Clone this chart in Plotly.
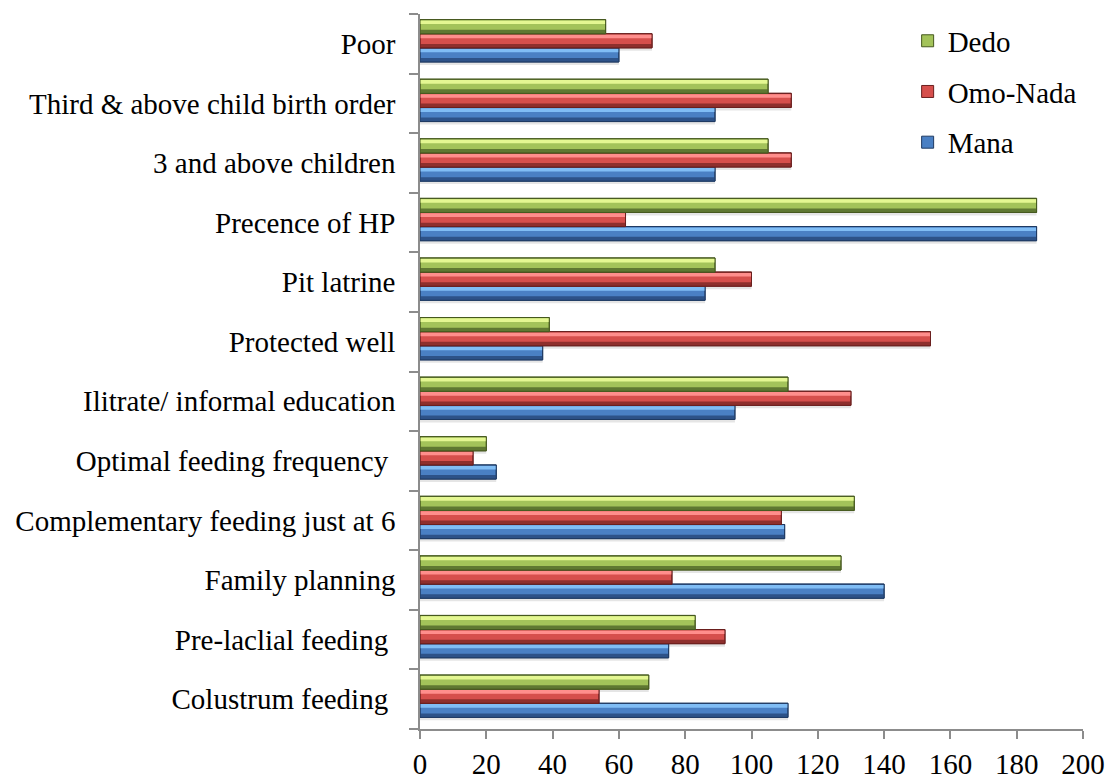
import plotly.graph_objects as go

# Categories, bottom to top
categories = [
    "Colustrum feeding\u00a0",
    "Pre-laclial feeding\u00a0",
    "Family planning",
    "Complementary feeding just at 6",
    "Optimal feeding frequency\u00a0",
    "Ilitrate/ informal education",
    "Protected well",
    "Pit latrine",
    "Precence of HP",
    "3 and above children",
    "Third & above child birth order",
    "Poor",
]

mana = [111, 75, 140, 110, 23, 95, 37, 86, 186, 89, 89, 60]
omo_nada = [54, 92, 76, 109, 16, 130, 154, 100, 62, 112, 112, 70]
dedo = [69, 83, 127, 131, 20, 111, 39, 89, 186, 105, 105, 56]

x_ticks = [0, 20, 40, 60, 80, 100, 120, 140, 160, 180, 200]

FONT = "Liberation Serif"
FSIZE = 29

# name, values, (mid, light, dark, edge), band offset, legend rank
series = [
    ("Mana", mana, ("#4a80c4", "#80bdf5", "#2d5288", "#1f3a62"), -0.305, 3),
    ("Omo-Nada", omo_nada, ("#d64f4c", "#ff8e8c", "#8e2f2d", "#6a1f1e"), -0.068, 2),
    ("Dedo", dedo, ("#a3c35a", "#e4f792", "#5f7832", "#46591f"), 0.169, 1),
]
W = 0.237

fig = go.Figure()

# soft shadows under each bar
for name, vals, cols, off, rank in series:
    fig.add_trace(go.Bar(
        y=categories, x=vals, orientation="h", offset=off - 0.05, width=W,
        marker=dict(color="rgba(0,0,0,0.10)", line=dict(width=0)),
        showlegend=False, hoverinfo="skip", legendgroup=name, legendrank=rank,
    ))

for name, vals, cols, off, rank in series:
    mid, light, dark, edge = cols
    # main body (carries the legend entry)
    fig.add_trace(go.Bar(
        y=categories, x=vals, orientation="h", offset=off, width=W, name=name,
        marker=dict(color=mid, line=dict(color=edge, width=1)),
        legendgroup=name, legendrank=rank,
    ))
    # lower darker bevel
    fig.add_trace(go.Bar(
        y=categories, x=vals, orientation="h", offset=off, width=W * 0.28,
        marker=dict(color=dark, line=dict(width=0)),
        showlegend=False, hoverinfo="skip", legendgroup=name, legendrank=rank,
    ))
    # upper light bevel
    fig.add_trace(go.Bar(
        y=categories, x=vals, orientation="h", offset=off + W * 0.68, width=W * 0.26,
        marker=dict(color=light, line=dict(width=0)),
        showlegend=False, hoverinfo="skip", legendgroup=name, legendrank=rank,
    ))
    # crisp outline on top
    fig.add_trace(go.Bar(
        y=categories, x=vals, orientation="h", offset=off, width=W,
        marker=dict(color="rgba(0,0,0,0)", line=dict(color=edge, width=1)),
        showlegend=False, hoverinfo="skip", legendgroup=name, legendrank=rank,
    ))

fig.update_layout(
    width=1110, height=780,
    barmode="overlay",
    plot_bgcolor="white", paper_bgcolor="white",
    margin=dict(l=420, r=27, t=14, b=51, autoexpand=False),
    font=dict(family=FONT, size=FSIZE, color="black"),
    showlegend=True,
    legend=dict(
        x=0.7355, y=0.998, xanchor="left", yanchor="top",
        traceorder="grouped", tracegroupgap=10,
        bgcolor="rgba(0,0,0,0)", font=dict(family=FONT, size=FSIZE, color="black"),
        itemclick=False,
    ),
    xaxis=dict(
        range=[0, 200], tickvals=x_ticks, ticktext=[str(v) for v in x_ticks],
        tickfont=dict(family=FONT, size=FSIZE, color="black"),
        showgrid=False, zeroline=False, showline=True, linecolor="#8c8c8c",
        linewidth=1.5, ticks="outside", ticklen=8, tickcolor="#8c8c8c",
        tickwidth=1.5, ticklabelstandoff=0, automargin=False,
    ),
    yaxis=dict(
        categoryorder="array", categoryarray=categories,
        tickfont=dict(family=FONT, size=FSIZE, color="black"),
        showgrid=False, zeroline=False, showline=True, linecolor="#8c8c8c",
        linewidth=1.5, ticks="outside", ticklen=9, tickcolor="#8c8c8c",
        tickwidth=1.5, tickson="boundaries", ticklabelstandoff=17,
        automargin=False,
    ),
)

fig.write_html("out.html")
